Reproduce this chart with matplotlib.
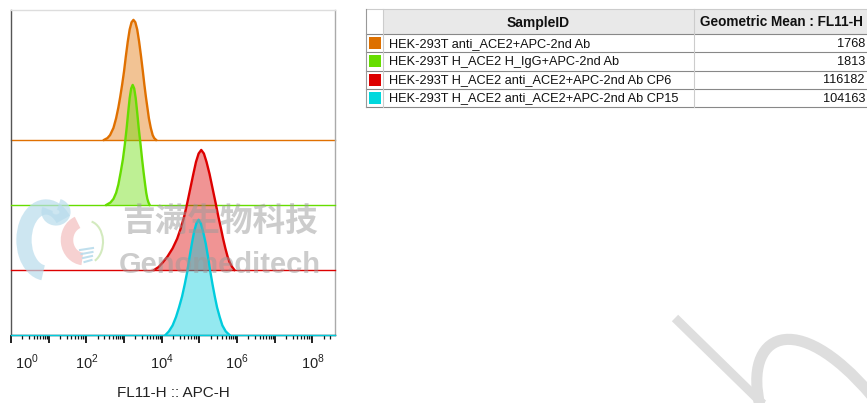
#!/usr/bin/env python3
"""FlowJo-style offset histogram overlay (FL11-H :: APC-H) with sample table."""

import numpy as np
import matplotlib
matplotlib.use("Agg")
import matplotlib.pyplot as plt
from matplotlib.patches import Rectangle, Arc, PathPatch
from matplotlib.path import Path
from matplotlib import transforms

plt.rcParams["font.family"] = ["Liberation Sans", "DejaVu Sans"]
plt.rcParams["mathtext.fontset"] = "custom"
plt.rcParams["mathtext.rm"] = "Liberation Sans"

# --------------------------------------------------------------------
# data (log10 of FL11-H, % of mode)
sample_ids = [
    "HEK-293T anti_ACE2+APC-2nd Ab",
    "HEK-293T H_ACE2 H_IgG+APC-2nd Ab",
    "HEK-293T H_ACE2 anti_ACE2+APC-2nd Ab CP6",
    "HEK-293T H_ACE2 anti_ACE2+APC-2nd Ab CP15",
]
geo_means = ["1768", "1813", "116182", "104163"]

orange_log = [2.47, 2.56, 2.63, 2.72, 2.79, 2.85, 2.90, 2.95, 3.00, 3.05, 3.10, 3.15, 3.20,
              3.25, 3.30, 3.35, 3.40, 3.45, 3.50, 3.54, 3.58, 3.62, 3.66, 3.71, 3.76, 3.80, 3.85]
orange_pct = [0, 1.5, 4, 10, 18, 27, 36, 46, 57, 70, 82, 92, 98,
              100, 98, 92, 82, 70, 57, 46, 36, 27, 18, 10, 4, 1.5, 0]

green_log = [2.53, 2.64, 2.72, 2.79, 2.85, 2.91, 2.97, 3.02, 3.07, 3.11, 3.15, 3.19,
             3.23, 3.27, 3.31, 3.35, 3.39, 3.44, 3.48, 3.52, 3.56, 3.59, 3.62, 3.65, 3.68]
green_pct = [0, 2, 5, 10, 17, 27, 38, 50, 64, 77, 89, 97,
             100, 97, 89, 77, 64, 50, 38, 27, 17, 10, 5, 2, 0]

red_log = [3.80, 3.92, 4.02, 4.15, 4.29, 4.41, 4.51, 4.60, 4.68, 4.76, 4.84, 4.91, 4.98,
           5.05, 5.12, 5.19, 5.27, 5.35, 5.43, 5.50, 5.57, 5.63, 5.69, 5.75, 5.81, 5.87, 5.93]
red_pct = [0, 2.5, 6, 11, 18, 26, 35, 45, 56, 68, 80, 90, 97,
           100, 97, 90, 80, 68, 56, 45, 35, 26, 18, 11, 6, 2.5, 0]

cyan_log = [4.10, 4.19, 4.29, 4.38, 4.46, 4.54, 4.61, 4.68, 4.74, 4.80, 4.86, 4.92,
            4.98, 5.04, 5.10, 5.17, 5.23, 5.29, 5.35, 5.41, 5.47, 5.54, 5.61, 5.70, 5.80]
cyan_pct = [0, 3, 8, 15, 23, 32, 42, 53, 65, 76, 86, 93,
            96, 93, 86, 76, 65, 53, 42, 32, 23, 15, 8, 3, 0]

tick_exps = [0, 1, 2, 3, 4, 5, 6, 7, 8]

# --------------------------------------------------------------------
line_colors = ["#E07000", "#66DD00", "#DD0000", "#00CCDD"]
swatch_colors = ["#DD7000", "#66DD00", "#DD0000", "#00D8DD"]
curves = [(orange_log, orange_pct), (green_log, green_pct),
          (red_log, red_pct), (cyan_log, cyan_pct)]
lane_step = 54.2   # vertical offset between stacked histograms

W, H = 867, 403
fig = plt.figure(figsize=(W / 100, H / 100), dpi=100)
ax = fig.add_axes([11 / W, (H - 335) / H, 324 / W, 325 / H])
ax.patch.set_visible(False)

n = len(curves)
for i, ((lx, pct), col) in enumerate(zip(curves, line_colors)):
    off = (n - 1 - i) * lane_step
    x = 10.0 ** np.array(lx)
    y = off + np.array(pct)
    ax.axhline(off, color=col, lw=1.0, zorder=2 * i + 1, clip_on=False)
    ax.fill_between(x, off, y, color=col, alpha=0.42, lw=0, zorder=2 * i + 1)
    ax.plot(x, y, color=col, lw=1.7, zorder=2 * i + 2, solid_joinstyle="round")

ax.set_xscale("log")
ax.set_xlim(1, 10 ** 8.6)
ax.set_ylim(0, 325 / 1.2)
ax.set_yticks([])

ax.set_xticks([10.0 ** e for e in tick_exps])
ax.set_xticklabels([f"$10^{{{e}}}$" if e % 2 == 0 else "" for e in tick_exps],
                   fontsize=10.5, color="#222222")
ax.xaxis.set_minor_locator(matplotlib.ticker.LogLocator(base=10, subs=np.arange(2, 10), numticks=20))
ax.xaxis.set_minor_formatter(matplotlib.ticker.NullFormatter())
ax.tick_params(axis="x", which="major", length=6, width=1.3, direction="out", pad=7, color="#111111")
ax.tick_params(axis="x", which="minor", length=3, width=0.9, direction="out", color="#111111")

# the first label sits to the right of its tick
first = ax.get_xticklabels()[0]
first.set_horizontalalignment("left")
first.set_transform(first.get_transform() + transforms.ScaledTranslation(4 / 100, 0, fig.dpi_scale_trans))

ax.set_xlabel("FL11-H :: APC-H", fontsize=11, color="#222222", labelpad=10)

ax.spines["left"].set_color("#555555")
ax.spines["bottom"].set_color("#222222")
ax.spines["top"].set_color("#dddddd")
ax.spines["right"].set_color("#aaaaaa")
for s in ax.spines.values():
    s.set_linewidth(1.0)

# --------------------------------------------------------------------
# overlay in pixel coordinates: watermark, table, big logo stroke
ov = fig.add_axes([0, 0, 1, 1], zorder=10)
ov.set_xlim(0, W)
ov.set_ylim(H, 0)
ov.axis("off")
ov.patch.set_visible(False)

# small logo
ov.add_patch(Arc((46, 240), 44, 66, theta1=95, theta2=310, lw=11, color="#b9dcec", alpha=0.7))
ov.add_patch(Arc((56, 212), 18, 16, theta1=-70, theta2=200, lw=8, color="#b9dcec", alpha=0.7))
ov.add_patch(Arc((84, 240), 34, 38, theta1=95, theta2=250, lw=9, color="#f4c2c2", alpha=0.75))
ov.add_patch(Arc((88, 242), 30, 42, theta1=-80, theta2=70, lw=1.5, color="#cfe8b8", alpha=0.9))
for k in range(4):
    yy = 250 + k * 4
    ov.plot([80 + k * 1.5, 93 - k * 0.5], [yy, yy - 2], color="#b9dcec", lw=1.5, alpha=0.9)

ov.text(220, 222, "吉满生物科技", family=["Noto Sans CJK SC", "DejaVu Sans"], weight="bold",
        fontsize=23.5, color="#9a9a9a", alpha=0.5, ha="center", va="center")
ov.text(220, 273, "Genomeditech", weight="bold", fontsize=21, color="#9a9a9a", alpha=0.5,
        ha="center", va="baseline")

# big background stroke, bottom right
ov.plot([675, 765], [318, 406], color="#dedede", lw=6.5, solid_capstyle="butt")
verts = [(760, 406), (743, 335), (795, 305), (872, 396)]
ov.add_patch(PathPatch(Path(verts, [Path.MOVETO, Path.CURVE4, Path.CURVE4, Path.CURVE4]),
                       fill=False, lw=8, edgecolor="#dedede", capstyle="butt"))

# table (right side runs to the figure edge)
x0, x_sw, x_id, x_end = 366, 383, 694, 867
y_head, y_rows, row_h = 9, 34, 18.3
ov.add_patch(Rectangle((x_sw, y_head), x_end - x_sw, y_rows - y_head, facecolor="#e9e9e9",
                       edgecolor="none"))
ov.plot([x0, x_end], [y_head, y_head], color="#cccccc", lw=0.8)
for k in range(len(sample_ids) + 1):
    yy = y_rows + k * row_h
    ov.plot([x0, x_end], [yy, yy], color="#888888", lw=0.8)
y_bot = y_rows + len(sample_ids) * row_h
ov.plot([x0, x0], [y_head, y_bot], color="#999999", lw=0.8)
ov.plot([x_sw, x_sw], [y_head, y_bot], color="#cccccc", lw=0.8)
ov.plot([x_id, x_id], [y_head, y_bot], color="#cccccc", lw=0.8)

ov.text((x_sw + x_id) / 2, (y_head + y_rows) / 2 + 1, "SampleID", weight="bold", fontsize=10,
        ha="center", va="center", color="#111111")
ov.text(x_id + 6, (y_head + y_rows) / 2 + 1, "Geometric Mean : FL11-H", weight="bold",
        fontsize=9.8, ha="left", va="center", color="#111111")

for k, (sid, gm, col) in enumerate(zip(sample_ids, geo_means, swatch_colors)):
    yc = y_rows + (k + 0.5) * row_h
    ov.add_patch(Rectangle((x0 + 3, yc - 6), 12, 12, facecolor=col, edgecolor="none"))
    ov.text(x_sw + 6, yc + 0.5, sid, fontsize=9.2, ha="left", va="center", color="#111111")
    ov.text(865, yc + 0.5, gm, fontsize=9.2, ha="right", va="center", color="#111111")

fig.savefig("out.png", dpi=100)
